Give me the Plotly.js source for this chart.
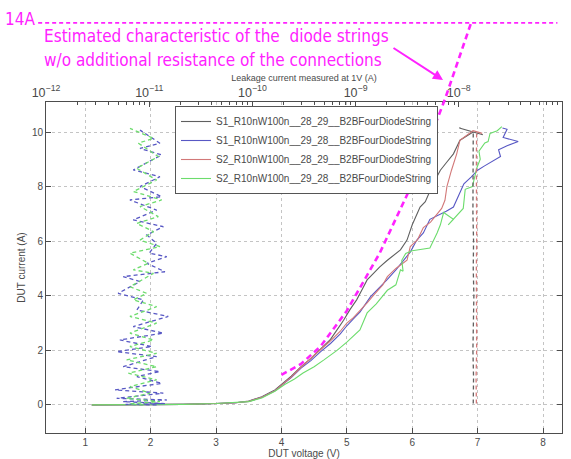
<!DOCTYPE html>
<html><head><meta charset="utf-8">
<script src="https://cdn.plot.ly/plotly-3.0.1.min.js"></script>
<style>html,body{margin:0;padding:0;background:#fff;}#chart{width:571px;height:459px;}</style>
</head><body><div id="chart"></div>
<script>
// ---------------- data ----------------
const seriesNames = [
  'S1_R10nW100n__28_29__B2BFourDiodeString',
  'S1_R10nW100n__29_28__B2BFourDiodeString',
  'S2_R10nW100n__28_29__B2BFourDiodeString',
  'S2_R10nW100n__29_28__B2BFourDiodeString'
];
// I-V curves (DUT voltage V, DUT current A)
const s1a_V = [1.1,1.5,2.0,2.5,3.0,3.3,3.5,3.7,3.9,4.0,4.15,4.3,4.45,4.6,4.75,4.85,4.95,5.05,5.15,5.25,5.31,5.4,5.5,5.62,5.72,5.82,5.92,6.0,6.12,6.2,6.32,6.43,6.53,6.63,6.73,6.85,6.93,6.72,7.08];
const s1a_I = [0,0,0.01,0.02,0.05,0.08,0.14,0.3,0.55,0.75,1.05,1.4,1.7,2.05,2.4,2.75,3.1,3.5,3.85,4.3,4.58,4.8,5.05,5.3,5.5,5.68,6.04,6.6,7.25,7.45,8.1,8.6,8.9,9.2,9.7,9.9,10.0,10.15,9.9];
const s1b_V = [1.1,1.5,2.0,2.5,3.0,3.3,3.5,3.7,3.9,4.0,4.15,4.3,4.45,4.6,4.75,4.9,5.0,5.1,5.2,5.36,5.5,5.62,5.75,5.87,5.97,6.07,6.17,6.27,6.4,6.52,6.63,6.72,6.79,6.9,7.0,7.1,7.2,7.35,7.32,7.45,7.62,7.39,7.45,7.38];
const s1b_I = [0,0,0.01,0.02,0.05,0.08,0.13,0.28,0.52,0.72,1.0,1.35,1.62,1.95,2.25,2.6,2.9,3.15,3.4,3.96,4.3,4.6,4.95,5.3,5.6,6.04,6.3,6.8,6.95,7.1,7.25,7.7,8.1,8.35,8.6,8.75,8.9,9.1,9.35,9.5,9.65,9.8,10.1,10.15];
const s2a_V = [1.1,1.5,2.0,2.5,3.0,3.3,3.5,3.7,3.9,4.0,4.15,4.3,4.45,4.6,4.75,4.9,5.0,5.1,5.2,5.31,5.42,5.55,5.62,5.75,5.92,5.97,6.08,6.17,6.28,6.38,6.45,6.5,6.53,6.6,6.68,6.73,6.82,6.93,7.07];
const s2a_I = [0,0,0.01,0.02,0.05,0.08,0.13,0.28,0.52,0.72,1.02,1.38,1.7,2.02,2.35,2.7,3.0,3.2,3.45,3.74,4.05,4.4,4.7,5.0,5.3,5.8,6.05,6.5,6.7,7.0,7.2,7.5,8.0,8.6,9.2,9.7,9.85,10.05,9.95];
const s2b_V = [1.1,1.5,2.0,2.5,3.0,3.3,3.5,3.7,3.9,4.05,4.2,4.33,4.5,4.65,4.85,5.0,5.2,5.31,5.45,5.62,5.75,5.82,5.86,5.84,5.9,6.0,6.15,6.27,6.38,6.43,6.48,6.63,6.55,6.7,6.78,6.81,6.92,6.99,7.04,7.02,7.11,7.16,7.19,7.3,7.37];
const s2b_I = [0,0,0.01,0.02,0.05,0.08,0.12,0.25,0.5,0.75,0.95,1.17,1.4,1.65,2.0,2.3,2.75,3.37,3.7,4.2,4.4,4.95,4.9,5.3,5.55,5.65,5.7,5.75,6.3,6.6,7.05,6.8,6.6,7.0,7.2,7.9,8.0,8.7,9.0,9.3,9.6,9.65,9.95,10.05,10.2];

// leakage current measured at 1V (A) versus DUT current (A)
const leak_s1a_L = [1.38e-8,1.39e-8,1.37e-8,1.38e-8,1.40e-8,1.38e-8,1.39e-8,1.37e-8,1.38e-8,1.39e-8,1.38e-8];
const leak_s1a_I = [0.05,1,2,3,4,5,6,7,8,9,10];
const leak_s2a_L = [1.48e-8,1.47e-8,1.49e-8,1.48e-8,1.47e-8,1.48e-8,1.49e-8,1.48e-8,1.47e-8,1.48e-8,1.49e-8];
const leak_s2a_I = [0.05,1,2,3,4,5,6,7,8,9,10];
const leak_s1b_L = [1.18e-11,5.9e-12,1.42e-11,5.6e-12,1.48e-11,4.84e-12,1.37e-11,4.67e-12,1.32e-11,7.6e-12,1.27e-11,5.6e-12,1.18e-11,4.84e-12,1.06e-11,5.2e-12,1.37e-11,7.0e-12,1.53e-11,7.6e-12,8.8e-12,5.0e-12,8.15e-12,5.6e-12,1.42e-11,9.5e-12,1.48e-11,1.0e-11,1.18e-11,9.5e-12,1.37e-11,7.0e-12,1.18e-11,6.5e-12,1.32e-11,8.15e-12,1.27e-11,7.0e-12,1.32e-11,8.15e-12,1.27e-11,8.15e-12];
const leak_s1b_I = [0.0,0.02,0.05,0.12,0.18,0.24,0.43,0.55,0.79,1.04,1.22,1.40,1.77,1.95,2.14,2.38,2.63,2.87,3.24,3.48,3.85,4.09,4.52,4.70,4.88,5.19,5.43,5.56,5.92,6.23,6.53,6.78,7.14,7.51,7.63,8.00,8.36,8.61,9.16,9.40,9.59,10.07];
const leak_s2b_L = [8.78e-12,6.51e-12,1.27e-11,6.05e-12,1.02e-11,6.51e-12,1.18e-11,6.28e-12,1.18e-11,6.05e-12,1.18e-11,6.51e-12,1.10e-11,6.51e-12,1.18e-11,6.51e-12,1.18e-11,7.02e-12,9.46e-12,6.51e-12,1.10e-11,7.02e-12,9.8e-12,6.51e-12,1.27e-11,8.15e-12,1.10e-11,7.57e-12,1.225e-11,8.15e-12,1.32e-11,7.02e-12,1.18e-11,7.57e-12,1.225e-11,7.86e-12,1.10e-11,6.51e-12];
const leak_s2b_I = [0,0.04,0.12,0.24,0.43,0.67,0.92,1.16,1.40,1.65,1.89,2.14,2.38,2.63,3.00,3.24,3.60,3.85,4.09,4.33,4.82,4.95,5.19,5.56,5.80,6.04,6.35,6.65,6.90,7.27,7.51,7.82,8.24,8.67,9.10,9.59,9.77,10.13];

// estimated characteristic (hand annotation)
const est_V = [4.0,4.3,4.6,5.0,5.5,6.0,6.5,6.9];
const est_I = [1.1,1.5,2.15,3.45,5.55,8.1,11.2,14.0];
const limit_V = [0.28,8.22];
const limit_I = [14,14];
const limitLabel = '14A';
const noteLines = ['Estimated characteristic of the  diode strings','w/o additional resistance of the connections'];

const xTicks = [1,2,3,4,5,6,7,8];
const yTicks = [0,2,4,6,8,10];

// ---------------- layout geometry ----------------
const W = 571, H = 459;
const box = {l:46, r:562, t:102, b:433};
const xRange = [0.4, 8.29];
const yRange = [-1.03, 11.1];
const pxV = (box.r - box.l) / (xRange[1] - xRange[0]);
const pxA = (box.b - box.t) / (yRange[1] - yRange[0]);
const x3Range = [xRange[0] - box.l / pxV, xRange[1] + (W - box.r) / pxV];
const y3Range = [yRange[0] - (H - box.b) / pxA, yRange[1] + box.t / pxA];
const px = v => v / W, py = v => 1 - v / H;

const colors = ['#5f5f5f', '#5858c4', '#d27878', '#6cdc6c'];
const mag = '#ff22ff';
const txt = '#4a4a4a';
const FONT = 'Liberation Sans, Arial, sans-serif';
const NARROW = 'Liberation Sans Narrow, Arial Narrow, DejaVu Sans Condensed, sans-serif';

const dashLeak = '4px,3px';
const traces = [];
function leakTrace(L, I, c) {
  return {x: L, y: I, xaxis: 'x2', yaxis: 'y', mode: 'lines', showlegend: false, hoverinfo: 'skip',
    line: {color: c, width: 1.3, dash: dashLeak}};
}
traces.push(leakTrace(leak_s1a_L, leak_s1a_I, colors[0]));
traces.push(leakTrace(leak_s2a_L, leak_s2a_I, colors[2]));
traces.push(leakTrace(leak_s1b_L, leak_s1b_I, colors[1]));
traces.push(leakTrace(leak_s2b_L, leak_s2b_I, colors[3]));
const ivV = [s1a_V, s1b_V, s2a_V, s2b_V];
const ivI = [s1a_I, s1b_I, s2a_I, s2b_I];
for (let k = 0; k < 4; k++) {
  traces.push({x: ivV[k], y: ivI[k], xaxis: 'x', yaxis: 'y', mode: 'lines', name: seriesNames[k],
    line: {color: colors[k], width: 1.1}});
}
traces.push({x: est_V, y: est_I, xaxis: 'x3', yaxis: 'y3', mode: 'lines', showlegend: false,
  line: {color: mag, width: 2.6, dash: '6px,4px'}});
traces.push({x: limit_V, y: limit_I, xaxis: 'x3', yaxis: 'y3', mode: 'lines', showlegend: false,
  line: {color: mag, width: 1.6, dash: '4px,3px'}});

const axBase = {showline: true, linecolor: '#4d4d4d', linewidth: 1, ticks: 'inside', ticklen: 5,
  tickcolor: '#4d4d4d', tickfont: {family: FONT, size: 10, color: txt}, zeroline: false};

const layout = {
  width: W, height: H, margin: {l: 0, r: 0, t: 0, b: 0},
  paper_bgcolor: '#fff', plot_bgcolor: 'rgba(0,0,0,0)',
  font: {family: FONT, color: txt},
  showlegend: true,
  legend: {x: px(175), y: py(106), xanchor: 'left', yanchor: 'top', bgcolor: '#fff',
    bordercolor: '#555', borderwidth: 1, font: {family: FONT, size: 10, color: txt},
    tracegroupgap: 0},
  xaxis: Object.assign({}, axBase, {domain: [px(box.l), px(box.r)], range: xRange, anchor: 'y',
    tickvals: xTicks, mirror: true, showgrid: true, gridcolor: '#c4c4c4', griddash: 'dot',
    title: {text: 'DUT voltage (V)', font: {family: FONT, size: 10, color: txt}, standoff: 2}}),
  yaxis: Object.assign({}, axBase, {domain: [py(box.b), py(box.t)], range: yRange, anchor: 'x',
    tickvals: yTicks, mirror: 'ticks', showgrid: true, gridcolor: '#c4c4c4', griddash: 'dot',
    title: {text: 'DUT current (A)', font: {family: FONT, size: 10, color: txt}, standoff: 4}}),
  xaxis2: Object.assign({}, axBase, {type: 'log', overlaying: 'x', side: 'top', anchor: 'y',
    range: [-12, -7], dtick: 1, exponentformat: 'power', showgrid: false,
    minor: {ticks: 'inside', ticklen: 3, tickcolor: '#4d4d4d', showgrid: false},
    title: {text: 'Leakage current measured at 1V (A)', font: {family: FONT, size: 9, color: txt}, standoff: 0}}),
  xaxis3: {domain: [0, 1], range: x3Range, visible: false, anchor: 'y3', fixedrange: true},
  yaxis3: {domain: [0, 1], range: y3Range, visible: false, anchor: 'x3', fixedrange: true},
  annotations: [
    {xref: 'paper', yref: 'paper', x: px(37), y: py(19), xanchor: 'right', yanchor: 'middle',
      text: limitLabel, showarrow: false, font: {family: NARROW, size: 17, color: mag}},
    {xref: 'paper', yref: 'paper', x: px(42), y: py(36), xanchor: 'left', yanchor: 'middle',
      text: noteLines[0], showarrow: false, font: {family: NARROW, size: 17, color: mag}},
    {xref: 'paper', yref: 'paper', x: px(42), y: py(60), xanchor: 'left', yanchor: 'middle',
      text: noteLines[1], showarrow: false, font: {family: NARROW, size: 17, color: mag}},
    {xref: 'paper', yref: 'paper', x: px(443), y: py(80), ax: -51, ay: -33, text: '',
      showarrow: true, arrowhead: 2, arrowsize: 1, arrowwidth: 2, arrowcolor: mag}
  ]
};
Plotly.newPlot('chart', traces, layout, {staticPlot: true, displayModeBar: false});
</script></body></html>
